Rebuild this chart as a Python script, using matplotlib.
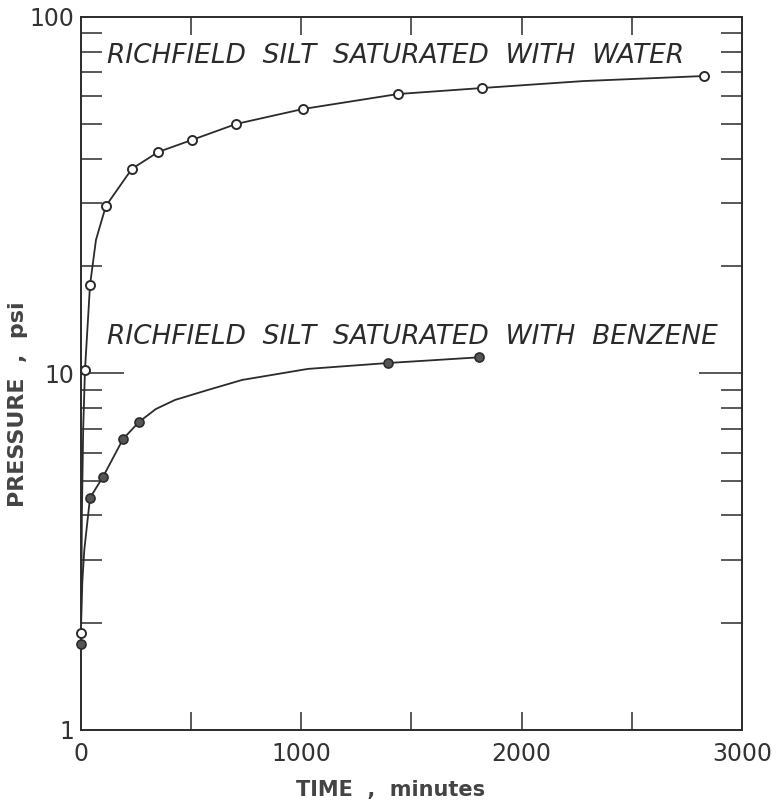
import matplotlib
matplotlib.use("Agg")
import matplotlib.pyplot as plt
from matplotlib.ticker import FixedLocator, NullFormatter

# measured points (open circles = water, filled = benzene)
water_t = [0, 18, 41, 113, 231, 350, 504, 704, 1008, 1439, 1820, 2828]
water_p = [1.87, 10.2, 17.7, 29.5, 37.5, 41.8, 45.2, 50.1, 55.2, 60.8, 63.2, 68.3]
benz_t = [0, 41, 100, 191, 263, 1394, 1807]
benz_p = [1.74, 4.48, 5.13, 6.55, 7.31, 10.7, 11.1]

# hand-drawn smooth curves
water_curve_t = [1, 4, 10, 18, 41, 68, 113, 231, 350, 504, 704, 1008, 1439, 1820, 2279, 2828]
water_curve_p = [2.0, 4.0, 7.0, 10.2, 17.7, 23.7, 29.5, 37.5, 41.8, 45.2, 50.1, 55.2, 60.8, 63.2, 66.1, 68.3]
benz_curve_t = [0, 6, 15, 41, 100, 191, 263, 340, 427, 576, 731, 1030, 1394, 1807]
benz_curve_p = [2.0, 2.6, 3.2, 4.48, 5.13, 6.55, 7.31, 7.95, 8.43, 8.99, 9.59, 10.3, 10.7, 11.1]

x_ticks = [0, 500, 1000, 1500, 2000, 2500, 3000]
x_labels = {0: "0", 1000: "1000", 2000: "2000", 3000: "3000"}
y_major = [1, 10, 100]
y_minor = [m * d for d in (1, 10) for m in range(2, 10)]

ink = "#2b2b2b"

fig = plt.figure(figsize=(7.81, 8.05), dpi=100)
ax = fig.add_axes([0.1037, 0.0932, 0.8463, 0.8857])

ax.plot(water_curve_t, water_curve_p, color=ink, lw=1.3, zorder=2)
ax.plot(benz_curve_t, benz_curve_p, color=ink, lw=1.3, zorder=2)
ax.plot(water_t, water_p, "o", ms=6.5, mfc="white", mec=ink, mew=1.4, zorder=3, clip_on=False)
ax.plot(benz_t, benz_p, "o", ms=6.5, mfc="#555555", mec=ink, mew=1.2, zorder=3, clip_on=False)

ax.set_yscale("log")
ax.set_xlim(0, 3000)
ax.set_ylim(1, 100)

for s in ax.spines.values():
    s.set_linewidth(1.4)
    s.set_color(ink)

ax.xaxis.set_major_locator(FixedLocator(x_ticks))
ax.set_xticklabels([x_labels.get(t, "") for t in x_ticks])
ax.yaxis.set_major_locator(FixedLocator(y_major))
ax.yaxis.set_minor_locator(FixedLocator(y_minor))
ax.set_yticklabels(["1", "10", "100"])
ax.yaxis.set_minor_formatter(NullFormatter())

ax.tick_params(axis="x", which="major", direction="in", length=13, width=1.1,
               top=True, color=ink, labelsize=17, labelcolor="#333333", pad=9)
ax.tick_params(axis="y", which="major", direction="in", length=31, width=1.1,
               right=True, color=ink, labelsize=17, labelcolor="#333333", pad=5)
ax.tick_params(axis="y", which="minor", direction="in", length=15, width=1.1,
               right=True, color=ink)
# no tick marks drawn at the ends of the axes
for t in (ax.xaxis.get_major_ticks()[0], ax.xaxis.get_major_ticks()[-1]):
    t.tick1line.set_visible(False)
    t.tick2line.set_visible(False)
for t in (ax.yaxis.get_major_ticks()[0], ax.yaxis.get_major_ticks()[-1]):
    t.tick1line.set_visible(False)
    t.tick2line.set_visible(False)

ax.text(0.039, 0.945, "RICHFIELD  SILT  SATURATED  WITH  WATER", transform=ax.transAxes,
        fontsize=19, style="italic", color=ink, va="center", ha="left")
ax.text(0.039, 0.551, "RICHFIELD  SILT  SATURATED  WITH  BENZENE", transform=ax.transAxes,
        fontsize=19, style="italic", color=ink, va="center", ha="left")

fig.text(0.50, 0.019, "TIME  ,  minutes", fontsize=15, fontweight="bold", color="#444444",
         ha="center", va="center")
fig.text(0.023, 0.498, "PRESSURE  ,  psi", fontsize=16, fontweight="bold", color="#444444",
         ha="center", va="center", rotation=90)

fig.savefig("out.png", dpi=100)
